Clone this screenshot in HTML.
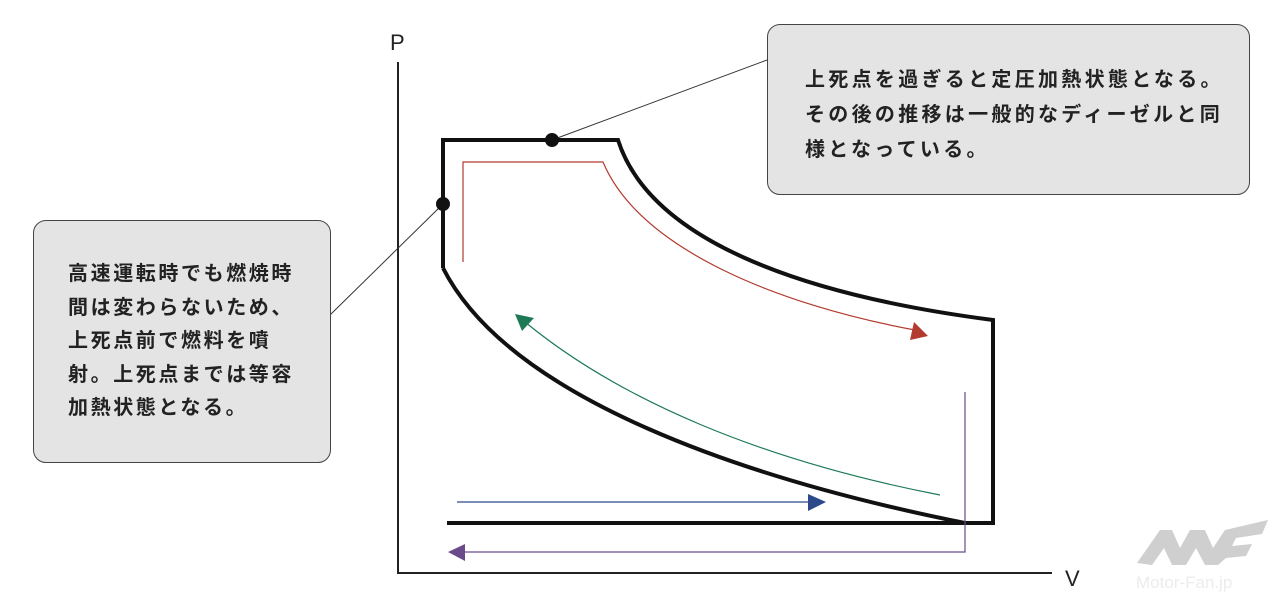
<!DOCTYPE html>
<html><head><meta charset="utf-8"><style>
body{margin:0;width:1279px;height:600px;background:#fff;overflow:hidden;position:relative;font-family:"Liberation Sans","Noto Sans CJK JP",sans-serif}
.box{position:absolute;background:#e4e4e4;border:1.5px solid #444;border-radius:13px;box-sizing:border-box;font-size:20px;font-weight:700;color:#222;line-height:33.5px;letter-spacing:2.6px;white-space:nowrap}
</style></head><body>
<svg width="1279" height="600" style="position:absolute;left:0;top:0">
<g fill="none">
<path d="M398,62 V573 H1052" stroke="#222" stroke-width="2"/>
<path d="M443,268 V140 H618 C650,240 800,295 993,320 V523 H447" stroke="#111" stroke-width="4"/>
<path d="M443,268 C510,400 750,480 965,523" stroke="#111" stroke-width="4"/>
<line x1="552" y1="140" x2="767" y2="60" stroke="#333" stroke-width="1"/>
<line x1="443" y1="204" x2="330" y2="315" stroke="#333" stroke-width="1"/>
<path d="M463,262 V162 H603 C640,250 780,305 915,330" stroke="#b23a2e" stroke-width="1.2"/>
<path d="M940,495 C760,460 620,400 525,322" stroke="#1d7a55" stroke-width="1.2"/>
<line x1="457" y1="502" x2="812" y2="502" stroke="#2b4a8a" stroke-width="1.2"/>
<path d="M965,392 V552 H460" stroke="#6b4a8a" stroke-width="1.2"/>
</g>
<polygon points="928,336 910,340 914,322" fill="#b23a2e"/>
<polygon points="515,314 534,318 522,331" fill="#1d7a55"/>
<polygon points="826,502 808,494 808,511" fill="#2b4a8a"/>
<polygon points="448,552 465,544 465,561" fill="#6b4a8a"/>
<circle cx="552" cy="140" r="7" fill="#111"/>
<circle cx="443" cy="204" r="7" fill="#111"/>
<text x="390" y="50" font-size="22" font-family="Liberation Sans" fill="#222">P</text>
<text x="1065" y="586" font-size="22" font-family="Liberation Sans" fill="#222">V</text>
<g fill="#cfcfcf">
<polygon points="1137,563 1160,530 1172,530 1180,548 1190,530 1205,530 1213,548 1225,530 1268,520 1262,534 1236,538 1232,546 1252,544 1246,556 1226,558 1218,565 1205,565 1196,548 1186,565 1172,565 1164,548 1152,565"/>
</g>
<text x="1136" y="588" font-size="17" font-family="Liberation Sans" fill="#ececec">Motor-Fan.jp</text>
</svg>
<div class="box" style="left:33px;top:220px;width:298px;height:243px;padding:37px 0 0 34px">高速運転時でも燃焼時<br>間は変わらないため、<br>上死点前で燃料を噴<br>射。上死点までは等容<br>加熱状態となる。</div>
<div class="box" style="left:767px;top:24px;width:483px;height:171px;padding:38px 0 0 37px;line-height:35px;letter-spacing:3.3px">上死点を過ぎると定圧加熱状態となる。<br>その後の推移は一般的なディーゼルと同<br>様となっている。</div>
</body></html>
